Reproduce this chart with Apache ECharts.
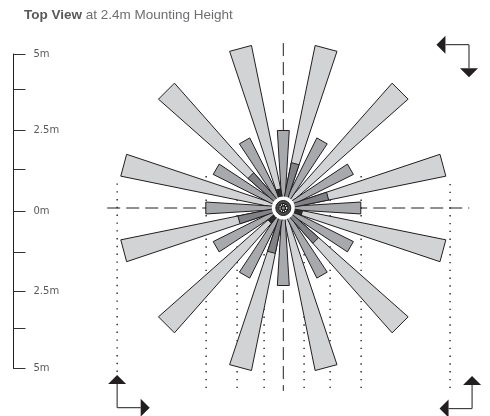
<!DOCTYPE html>
<html><head><meta charset="utf-8">
<style>html,body{margin:0;padding:0;background:#fff}#c{width:490px;height:416px}</style>
<script src="https://cdn.jsdelivr.net/npm/echarts@6/dist/echarts.min.js"></script>
</head><body><div id="c"></div>
<script>
// Values in metres; angles in degrees clockwise from "up"
const titleBold = 'Top View', titleRest = ' at 2.4m Mounting Height';
const longAngles = [15,45,75,105,135,165,195,225,255,285,315,345];
const longReach = 5.33;
const shortAngles = [0,30,60,90,120,150,180,210,240,270,300,330];
const shortReach = 2.5;
const midAngles = [15,75,135,195,255,315];
const midReach = 1.48;
const coreAngles = [105,225,345];
const coreReach = 0.62;
const spreadSlope = 0.061;
const rootHalfWidth = 0.04;
const scaleTicks = [5,3.89,2.58,1.34,0,-1.30,-2.54,-3.71,-5];
const scaleLabelValues = [5,2.58,0,-2.54,-5];
const scaleLabelTexts = ['5m','2.5m','0m','2.5m','5m'];
const crossX = [-5.68,6.0];
const crossY = [5.32,-5.9];
// dotted coverage columns: x, top, bottom
const dotX   = [-5.36,-2.49,-1.49,-0.62,0.67,1.51,2.51,5.38];
const dotTop = [0.97,1.03,0.32,-1.35,-1.35,0.32,1.03,0.97];
const dotBot = [-5.29,-5.81,-5.81,-5.81,-5.81,-5.81,-5.81,-5.81];
// direction arrows: corner x, corner y, horizontal dir, vertical dir
const arrowX = [5.99,-5.36,6.09];
const arrowY = [5.27,-6.44,-6.47];
const arrowH = [-1,1,-1];
const arrowV = [-1,1,1];
const arrowArm = 1.05;

const INK = '#231f20';
function wedgeSeries(angles, reach, fill){
  return {type:'custom', xAxisIndex:0, yAxisIndex:0, silent:true, clip:false,
    data: angles.map(a=>[a,reach]),
    renderItem(p,api){
      const a=api.value(0)*Math.PI/180, r=api.value(1);
      const ux=Math.sin(a), uy=Math.cos(a), nx=uy, ny=-ux;
      const pt=(along,side)=>api.coord([ux*along+nx*side, uy*along+ny*side]);
      const hw=rootHalfWidth+spreadSlope*r;
      return {type:'polygon', shape:{points:[pt(0,-rootHalfWidth),pt(r,-hw),pt(r,hw),pt(0,rootHalfWidth)]},
        style:{fill:fill, stroke:INK, lineWidth:1, lineJoin:'miter'}};
    }};
}
const option = {
  animation:false, backgroundColor:'#fff',
  title:{left:19, top:3, itemGap:0, text:'{b|'+titleBold+'}{r|'+titleRest+'}',
    textStyle:{fontWeight:'normal',rich:{
      b:{fontFamily:'Liberation Sans',fontSize:13.5,fontWeight:'bold',color:'#58595b'},
      r:{fontFamily:'Liberation Sans',fontSize:13.5,fontWeight:'normal',color:'#6d6e71'}}}},
  grid:[
    {left:35.3, top:22, width:434, height:378.2},
    {left:13.5, top:54, width:100, height:314.5}
  ],
  xAxis:[
    {gridIndex:0,type:'value',min:-8,max:6,show:false},
    {gridIndex:1,type:'value',min:0,max:1,show:false}
  ],
  yAxis:[
    {gridIndex:0,type:'value',min:-6.2,max:6,show:false},
    {gridIndex:1,type:'value',min:-5,max:5,position:'left',
     splitLine:{show:false},
     axisLine:{show:true,lineStyle:{color:INK,width:1}},
     axisTick:{show:true,inside:true,length:12,customValues:scaleTicks,lineStyle:{color:'#333',width:1}},
     axisLabel:{show:true,inside:true,margin:20,customValues:scaleLabelValues,
       fontFamily:'DejaVu Sans',fontSize:10,color:'#58595b',
       formatter:v=>scaleLabelTexts[scaleLabelValues.indexOf(v)]}}
  ],
  series:[
    {type:'custom',xAxisIndex:0,yAxisIndex:0,silent:true,clip:false,
     data:dotX.map((x,i)=>[x,dotTop[i],dotBot[i]]),
     renderItem(p,api){
       const a=api.coord([api.value(0),api.value(2)]), b=api.coord([api.value(0),api.value(1)]);
       return {type:'line',shape:{x1:a[0],y1:a[1],x2:b[0],y2:b[1]},
         style:{stroke:'#000',lineWidth:1.2,lineDash:[1.4,6.4]}};
     }},
    {type:'custom',xAxisIndex:0,yAxisIndex:0,silent:true,clip:false,
     data:[[crossX[0],0,crossX[1],0],[0,crossY[0],0,crossY[1]]],
     renderItem(p,api){
       const a=api.coord([api.value(0),api.value(1)]), b=api.coord([api.value(2),api.value(3)]);
       return {type:'line',shape:{x1:a[0],y1:a[1],x2:b[0],y2:b[1]},
         style:{stroke:INK,lineWidth:1,lineDash:[13,6]}};
     }},
    wedgeSeries(longAngles,longReach,'#d1d3d4'),
    wedgeSeries(shortAngles,shortReach,'#a7a9ac'),
    wedgeSeries(midAngles,midReach,'#808285'),
    wedgeSeries(coreAngles,coreReach,'#2b2b2b'),
    // hub
    {type:'custom',xAxisIndex:0,yAxisIndex:0,silent:true,clip:false,
     data:[[0,0]],
     renderItem(p,api){
       const c=api.coord([api.value(0),api.value(1)]);
       const ring=(r,fill,stroke,lw,dash)=>({type:'circle',shape:{cx:c[0],cy:c[1],r},
         style:{fill,stroke,lineWidth:lw||0,lineDash:dash}});
       return {type:'group',children:[
         ring(11.5,'#fff'),
         ring(7.5,'#4a4a4a',INK,1),
         ring(5,'#1a1a1a'),
         ring(3.4,'#1a1a1a','#fff',1.2,[1.2,1]),
         ring(1.6,'#8a8a8a')
       ]};
     }},
    // arrows
    {type:'custom',xAxisIndex:0,yAxisIndex:0,silent:true,clip:false,
     data:arrowX.map((x,i)=>[x,arrowY[i],arrowH[i],arrowV[i]]),
     renderItem(p,api){
       const x=api.value(0), y=api.value(1), h=api.value(2), v=api.value(3);
       const c=api.coord([x,y]), ht=api.coord([x+h*arrowArm,y]), vt=api.coord([x,y+v*arrowArm]);
       const headH=9, half=9;
       const hb=[ht[0]-h*headH,ht[1]], vb=[vt[0],vt[1]+v*headH];
       const ls={stroke:'#414042',lineWidth:1.2};
       return {type:'group',children:[
         {type:'line',shape:{x1:c[0],y1:c[1],x2:hb[0],y2:hb[1]},style:ls},
         {type:'line',shape:{x1:c[0],y1:c[1],x2:vb[0],y2:vb[1]},style:ls},
         {type:'polygon',shape:{points:[ht,[hb[0],hb[1]-half],[hb[0],hb[1]+half]]},style:{fill:INK}},
         {type:'polygon',shape:{points:[vt,[vb[0]-half,vb[1]],[vb[0]+half,vb[1]]]},style:{fill:INK}}
       ]};
     }},
    // empty series that binds the scale bar grid
    {type:'line',xAxisIndex:1,yAxisIndex:1,data:[],silent:true}
  ]
};
echarts.init(document.getElementById('c'),null,{renderer:'canvas'}).setOption(option);
</script></body></html>
